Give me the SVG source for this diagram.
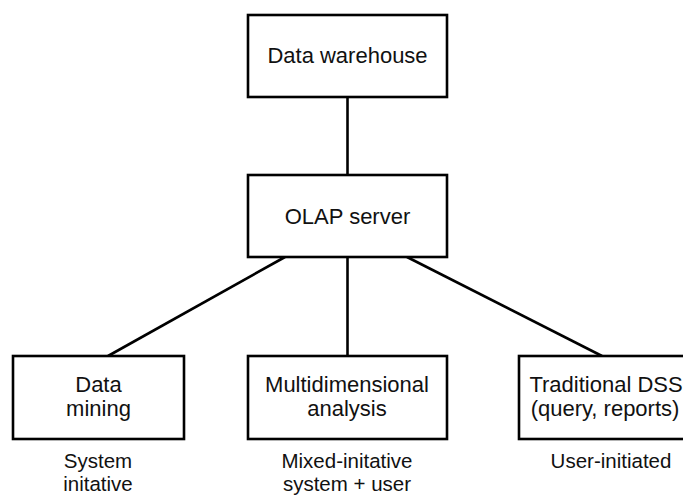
<svg xmlns="http://www.w3.org/2000/svg" width="683" height="496" viewBox="0 0 683 496">
<style>
.box{fill:#fff;stroke:#000;stroke-width:2.6}
.con line{stroke:#000;stroke-width:2.6}
text{font-family:"Liberation Sans",Arial,sans-serif;font-size:22px;fill:#111;text-anchor:middle}
.cap{font-size:20.5px}
</style>
<rect width="683" height="496" fill="#fff"/>
<g class="con" id="connectors">
<line x1="347.5" y1="97" x2="347.5" y2="175"/>
<line x1="347.5" y1="257" x2="347.5" y2="356"/>
<line x1="285" y1="257" x2="108" y2="356"/>
<line x1="407" y1="257" x2="602" y2="356"/>
</g>
<g id="dw">
<rect class="box" x="248" y="15" width="199" height="82"/>
<text x="347.5" y="63">Data warehouse</text>
</g>
<g id="olap">
<rect class="box" x="248" y="175" width="199" height="82"/>
<text x="347.5" y="223.5">OLAP server</text>
</g>
<g id="mining">
<rect class="box" x="13" y="356" width="171" height="83"/>
<text x="98.5" y="392">Data</text>
<text x="98.5" y="415.5">mining</text>
<text class="cap" x="98" y="468">System</text>
<text class="cap" x="98" y="491">initative</text>
</g>
<g id="multi">
<rect class="box" x="248" y="356" width="199" height="83"/>
<text x="347" y="392">Multidimensional</text>
<text x="347" y="415.5">analysis</text>
<text class="cap" x="347" y="468">Mixed-initative</text>
<text class="cap" x="347" y="491">system + user</text>
</g>
<g id="dss">
<rect class="box" x="519" y="356" width="172" height="83"/>
<text x="606" y="392">Traditional DSS</text>
<text x="605" y="415.5">(query, reports)</text>
<text class="cap" x="611" y="468">User-initiated</text>
</g>
</svg>
